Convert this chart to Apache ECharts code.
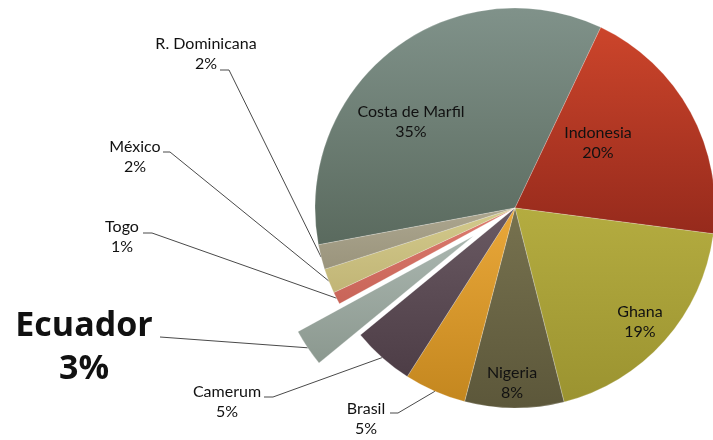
<!DOCTYPE html>
<html><head><meta charset="utf-8">
<script src="https://cdn.jsdelivr.net/npm/echarts@6/dist/echarts.min.js"></script>
<style>html,body{margin:0;padding:0;background:#fff}#c{width:713px;height:440px}</style>
</head><body><div id="c"></div>
<script>
// ---- data ----
const categories = ['Costa de Marfil', 'Indonesia', 'Ghana', 'Nigeria', 'Brasil', 'Camerum', 'Ecuador', 'Togo', 'México', 'R. Dominicana'];
const shares = [35, 20, 19, 8, 5, 5, 3, 1, 2, 2];
const highlighted = 'Ecuador';

// ---- styling ----
const colorsTop = ['#80928a', '#cc452b', '#b4ac40', '#77724f', '#eaa83a', '#6a5a63', '#aab6af', '#dd7c6f', '#d3ca8c', '#aca68f'];
const colorsBottom = ['#5a6a5e', '#962a1c', '#9b9330', '#5c573a', '#c4871f', '#4d3d46', '#8b988f', '#c86458', '#c1b576', '#9a947c'];
const outsideLabels = ['Brasil', 'Camerum', 'Ecuador', 'Togo', 'México', 'R. Dominicana'];
const OFFSET = 50;
// label block centres and leader-line anchor points (layout, in pixels)
const labelBoxes = {
  'Costa de Marfil': { x: 411, y: 122 },
  'Indonesia': { x: 598, y: 143 },
  'Ghana': { x: 640, y: 322 },
  'Nigeria': { x: 512, y: 383 },
  'Brasil': { x: 366, y: 419, lx: 390, ly: 413, bend: 8 },
  'Camerum': { x: 227, y: 402, lx: 264, ly: 397, bend: 9 },
  'Ecuador': { x: 84, y: 348, lx: 160, ly: 337, bend: 0 },
  'Togo': { x: 122, y: 237, lx: 143, ly: 233, bend: 9 },
  'México': { x: 135, y: 157, lx: 163, ly: 152, bend: 7 },
  'R. Dominicana': { x: 206, y: 54, lx: 220, ly: 70, bend: 9 }
};

const FONT = 'Lato';
const CENTER = [515, 208];
const RADIUS = 200;
const START = 190.6;

function layoutFn(p) {
  const name = categories[p.dataIndex];
  const b = labelBoxes[name];
  const res = { x: b.x, y: b.y, align: 'center', verticalAlign: 'middle' };
  if (b.lx != null && p.labelLinePoints) {
    const pts = p.labelLinePoints;
    let p0 = pts[0].slice();
    if (name === highlighted) {
      const dx = pts[1][0] - pts[0][0], dy = pts[1][1] - pts[0][1];
      const len = Math.hypot(dx, dy) || 1;
      p0 = [p0[0] + dx / len * OFFSET, p0[1] + dy / len * OFFSET];
    }
    res.labelLinePoints = [p0, [b.lx + b.bend, b.ly], [b.lx, b.ly]];
  }
  return res;
}

// main pie (slices + all labels except the highlighted one)
const mainData = categories.map(function (name, i) {
  const isOut = outsideLabels.indexOf(name) >= 0;
  const isHi = name === highlighted;
  return {
    name: name,
    value: shares[i],
    selected: isHi,
    itemStyle: {
      color: new echarts.graphic.LinearGradient(0, 0, 0, 1, [
        { offset: 0, color: colorsTop[i] },
        { offset: 1, color: colorsBottom[i] }
      ])
    },
    label: { show: !isHi, position: isOut ? 'outside' : 'inside' },
    labelLine: { show: isOut && !isHi }
  };
});

// overlay pie (transparent) carrying only the highlighted label
const overlayData = categories.map(function (name, i) {
  const isHi = name === highlighted;
  return {
    name: name,
    value: shares[i],
    itemStyle: { color: 'rgba(0,0,0,0)', borderWidth: 0 },
    label: { show: isHi, position: 'outside' },
    labelLine: { show: isHi }
  };
});

const chart = echarts.init(document.getElementById('c'), null, { renderer: 'canvas' });
chart.setOption({
  animation: false,
  backgroundColor: '#ffffff',
  series: [{
    type: 'pie',
    center: CENTER,
    radius: RADIUS,
    startAngle: START,
    clockwise: true,
    selectedMode: 'single',
    selectedOffset: OFFSET,
    avoidLabelOverlap: false,
    emphasis: { disabled: true },
    itemStyle: { borderColor: 'rgba(255,255,255,0.35)', borderWidth: 0.6 },
    label: {
      formatter: '{b}\n{d}%',
      color: '#111111',
      fontFamily: FONT,
      fontSize: 16,
      lineHeight: 20,
      align: 'center'
    },
    labelLine: {
      length: 10,
      length2: 10,
      lineStyle: { color: '#4a4a4a', width: 1 }
    },
    labelLayout: layoutFn,
    data: mainData
  }, {
    type: 'pie',
    silent: true,
    center: CENTER,
    radius: RADIUS,
    startAngle: START,
    clockwise: true,
    avoidLabelOverlap: false,
    emphasis: { disabled: true },
    label: {
      formatter: '{b}\n{d}%',
      color: '#111111',
      fontFamily: 'Open Sans',
      fontSize: 34,
      fontWeight: 'bold',
      lineHeight: 43,
      align: 'center'
    },
    labelLine: {
      length: 10,
      length2: 10,
      lineStyle: { color: '#4a4a4a', width: 1 }
    },
    labelLayout: layoutFn,
    data: overlayData
  }]
});
</script></body></html>
